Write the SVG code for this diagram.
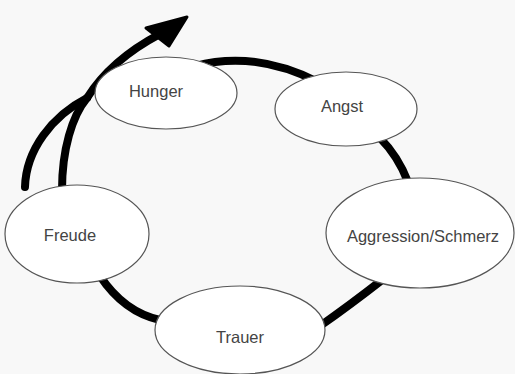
<svg xmlns="http://www.w3.org/2000/svg" width="515" height="374" viewBox="0 0 515 374">
<style>
.node ellipse{fill:#fff;stroke:#555;stroke-width:1.2}
.node text{font-family:"Liberation Sans",Arial,sans-serif;font-size:16.5px;fill:#444;text-anchor:middle}
.conn path{fill:none;stroke:#000;stroke-width:8;stroke-linecap:round}
</style>
<rect width="515" height="374" fill="#f8f8f8"/>
<g id="connectors" class="conn">
<path d="M25,187 C26,150 52,116 87,98"/>
<path d="M62,190 C62,150 72,116 87,98"/>
<path d="M87,98 C102,74 126,52 160,34"/>
<polygon points="187,17 146,28 169,46" fill="#000" stroke="#000" stroke-width="3" stroke-linejoin="round"/>
<path d="M195,66 Q255,50 318,82"/>
<path d="M380,138 Q398,156 408,182"/>
<path d="M382,280 Q350,305 320,326"/>
<path d="M160,320 Q124,312 100,276"/>
</g>
<g id="hunger" class="node"><ellipse cx="166" cy="93" rx="71" ry="36"/><text x="156" y="97">Hunger</text></g>
<g id="angst" class="node"><ellipse cx="346" cy="109" rx="71" ry="37"/><text x="342" y="112">Angst</text></g>
<g id="aggression" class="node"><ellipse cx="420" cy="233" rx="94" ry="55"/><text x="423" y="242">Aggression/Schmerz</text></g>
<g id="freude" class="node"><ellipse cx="77" cy="234" rx="72" ry="49"/><text x="70" y="241">Freude</text></g>
<g id="trauer" class="node"><ellipse cx="240" cy="330" rx="85" ry="44"/><text x="240" y="343">Trauer</text></g>
</svg>
